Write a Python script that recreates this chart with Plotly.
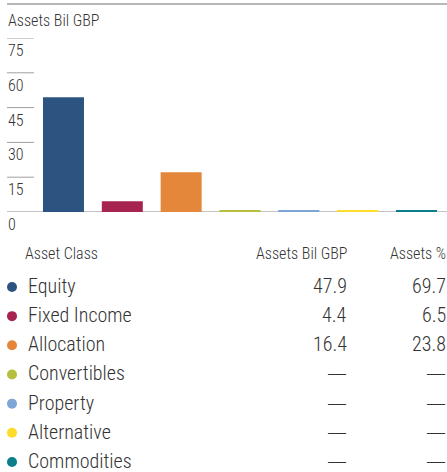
import plotly.graph_objects as go

# ---- data ----
asset_classes = ["Equity", "Fixed Income", "Allocation", "Convertibles",
                 "Property", "Alternative", "Commodities"]
bar_values = [49.5, 4.6, 17.1, 0.5, 0.5, 0.5, 0.5]          # bar heights as drawn
assets_bil = ["47.9", "4.4", "16.4", "—", "—", "—", "—"]     # table column
assets_pct = ["69.7", "6.5", "23.8", "—", "—", "—", "—"]     # table column
colors = ["#2d5481", "#a6244f", "#e5873a", "#b6be3d",
          "#7ea6d4", "#fedc2b", "#0b7d8b"]
tick_vals = [0, 15, 30, 45, 60, 75]
axis_title = "Assets Bil GBP"
col_headers = ["Asset Class", "Assets Bil GBP", "Assets %"]

FONT = "Roboto Condensed, Liberation Sans Narrow, DejaVu Sans Condensed, sans-serif"
TXT = "#333333"
W, H = 447, 472


def f(size, family=FONT):
    return dict(size=size, color=TXT, family=family, weight=300)


fig = go.Figure()

fig.add_trace(go.Bar(
    x=asset_classes, y=bar_values, marker=dict(color=colors, line=dict(width=0)),
    width=0.697, xaxis="x", yaxis="y", hoverinfo="skip", showlegend=False))

# legend dots of the table
fig.add_trace(go.Scatter(
    x=[0] * len(asset_classes), y=asset_classes, mode="markers",
    marker=dict(color=colors, size=10, line=dict(width=0)),
    xaxis="x2", yaxis="y2", hoverinfo="skip", showlegend=False))

# plot area: x px 7..447, y px 38..212
plot_top, plot_bot = 38, 212
fig.update_layout(
    width=W, height=H,
    margin=dict(l=0, r=0, t=0, b=0),
    paper_bgcolor="white", plot_bgcolor="rgba(0,0,0,0)",
    font=dict(family=FONT, color=TXT, size=16),
    xaxis=dict(domain=[7 / W, 1], type="category", range=[-0.960, 6.519],
               showticklabels=False, showgrid=False, zeroline=False,
               showline=False, ticks="", fixedrange=True),
    yaxis=dict(domain=[(H - plot_bot) / H, (H - plot_top) / H], range=[0, 75],
               showticklabels=False, showgrid=False, zeroline=False,
               showline=False, ticks="", fixedrange=True),
    xaxis2=dict(domain=[0, 1], range=[-12, W - 12], visible=False,
                anchor="y2", fixedrange=True),
    yaxis2=dict(domain=[0, 0.5], type="category",
                categoryorder="array", categoryarray=asset_classes,
                range=[6.343, -1.748], visible=False, anchor="x2",
                fixedrange=True),
)

shapes = []
# top rule
shapes.append(dict(type="line", xref="paper", yref="paper",
                   x0=7 / W, x1=1, y0=(H - 4) / H, y1=(H - 4) / H,
                   line=dict(color="#a0a0a0", width=1.5), layer="below"))
# short gridlines at the left
for v in tick_vals[1:]:
    shapes.append(dict(type="line", xref="x domain", yref="y",
                       x0=0, x1=27 / 440, y0=v, y1=v,
                       line=dict(color="#a0a0a0", width=1), layer="below"))
# baseline
shapes.append(dict(type="line", xref="x domain", yref="y",
                   x0=0, x1=1, y0=0, y1=0,
                   line=dict(color="#b0b0b0", width=1.5), layer="below"))
fig.update_layout(shapes=shapes)

ann = []
# axis title
ann.append(dict(text=axis_title, xref="paper", yref="paper",
                x=6 / W, y=(H - 20) / H, xanchor="left", yanchor="middle",
                showarrow=False, font=f(16)))
# tick labels under each gridline
for v in tick_vals:
    ann.append(dict(text=str(v), xref="x domain", yref="y", x=0, y=v,
                    xanchor="left", yanchor="top", yshift=-1, xshift=-1,
                    showarrow=False, font=f(16)))
# table headers
hy = (H - 253) / H
ann.append(dict(text=col_headers[0], xref="x2", yref="paper", x=11, y=hy,
                xanchor="left", yanchor="middle", showarrow=False, font=f(16)))
ann.append(dict(text=col_headers[1], xref="x2", yref="paper", x=337, y=hy,
                xanchor="right", yanchor="middle", showarrow=False, font=f(16)))
ann.append(dict(text=col_headers[2], xref="x2", yref="paper", x=433, y=hy,
                xanchor="right", yanchor="middle", showarrow=False,
                xshift=3, font=f(16)))
# table rows
DASH_FONT = "DejaVu Sans"
for name, b, p in zip(asset_classes, assets_bil, assets_pct):
    ann.append(dict(text=name, xref="x2", yref="y2", x=14, y=name,
                    xanchor="left", yanchor="middle", showarrow=False,
                    yshift=1, font=f(20)))
    for val, xx, sh in ((b, 337, 0), (p, 433, 3)):
        fam = DASH_FONT if val == "—" else FONT
        ann.append(dict(text=val, xref="x2", yref="y2", x=xx, y=name,
                        xanchor="right", yanchor="middle", showarrow=False,
                        xshift=sh, yshift=1,
                        font=dict(size=20, color=TXT, family=fam,
                                  weight=200 if val == "—" else 300)))
fig.update_layout(annotations=ann)

fig.write_html("out.html", config=dict(displayModeBar=False))
